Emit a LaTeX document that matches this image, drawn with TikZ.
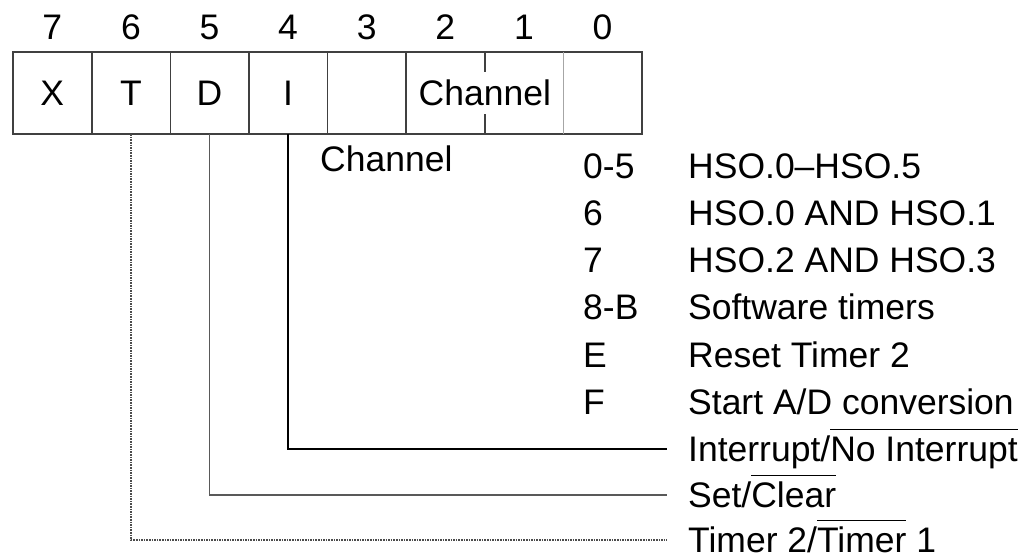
\documentclass[tikz,border=0pt]{standalone}
\usepackage{fontspec}
\setmainfont{Liberation Sans}
\tikzset{bit/.style = {minimum width=78.6pt, minimum height=82pt, inner sep=0pt},
  lbl/.style = {anchor=west, inner sep=0pt, text height=25pt, text depth=0pt},
  frame/.style = {line width=1.5pt, black!75},
  lead/.style = {line width=1.6pt, shorten >=21pt}}
\newsavebox{\ovlbox}
\newcommand{\ovl}[1]{\sbox{\ovlbox}{#1}\rlap{\rule[0.88em]{\wd\ovlbox}{1.1pt}}\usebox{\ovlbox}}

\begin{document}
\begin{tikzpicture}[x=1pt, y=-1pt, font=\fontsize{35.5}{40}\selectfont]
      \useasboundingbox (0,0) rectangle (1034,558);
      % register, bit 7 on the left
      \foreach \i/\t [count=\k from 0] in {7/X,6/T,5/D,4/I,3/,2/,1/,0/} {
        \node[bit] (b\i) at (52.3+78.6*\k, 93) {\t};
        \node[lbl, anchor=center] (n\i) at (52.3+78.6*\k, 27) {\i};
      }
      \draw[frame] (b7.north west) rectangle (b0.south east);
      \foreach \i in {7,6,5,4,3}
        \draw[frame] (b\i.north east) -- (b\i.south east);
      \draw[frame] (b2.north east) -- ++(0,20);
      \draw[frame] (b2.south east) -- ++(0,-20);
      \draw[frame, black!35] (b1.north east) -- (b1.south east);
      \node (chreg) at (b2.east) {Channel};
      % channel codes
      \node[lbl] (chlbl) at (320,159) {Channel};
      \node[lbl] (c0) at (583,166) {0-5};
      \node[lbl] (c1) at (583,213) {6};
      \node[lbl] (c2) at (583,260) {7};
      \node[lbl] (c3) at (583,307) {8-B};
      \node[lbl] (c4) at (583,355) {E};
      \node[lbl] (c5) at (583,402) {F};
      \node[lbl] (d0) at (688,166) {HSO.0–HSO.5};
      \node[lbl] (d1) at (688,213) {HSO.0 AND HSO.1};
      \node[lbl] (d2) at (688,260) {HSO.2 AND HSO.3};
      \node[lbl] (d3) at (688,307) {Software timers};
      \node[lbl] (d4) at (688,355) {Reset Timer 2};
      \node[lbl] (d5) at (688,402) {Start A/D conversion};
      % flag bits
      \node[lbl] (irq) at (688,449) {Interrupt/\ovl{No Interrupt}};
      \node[lbl] (setclr) at (688,495) {Set/\ovl{Clear}};
      \node[lbl] (tmr) at (688,540) {Timer 2/\ovl{Timer} 1};
      \draw[lead, black] (b4.south) |- (irq.west);
      \draw[lead, black!65] (b5.south) |- (setclr.west);
      \draw[lead, black!70, densely dotted] (b6.south) |- (tmr.west);
    \end{tikzpicture}
\end{document}
